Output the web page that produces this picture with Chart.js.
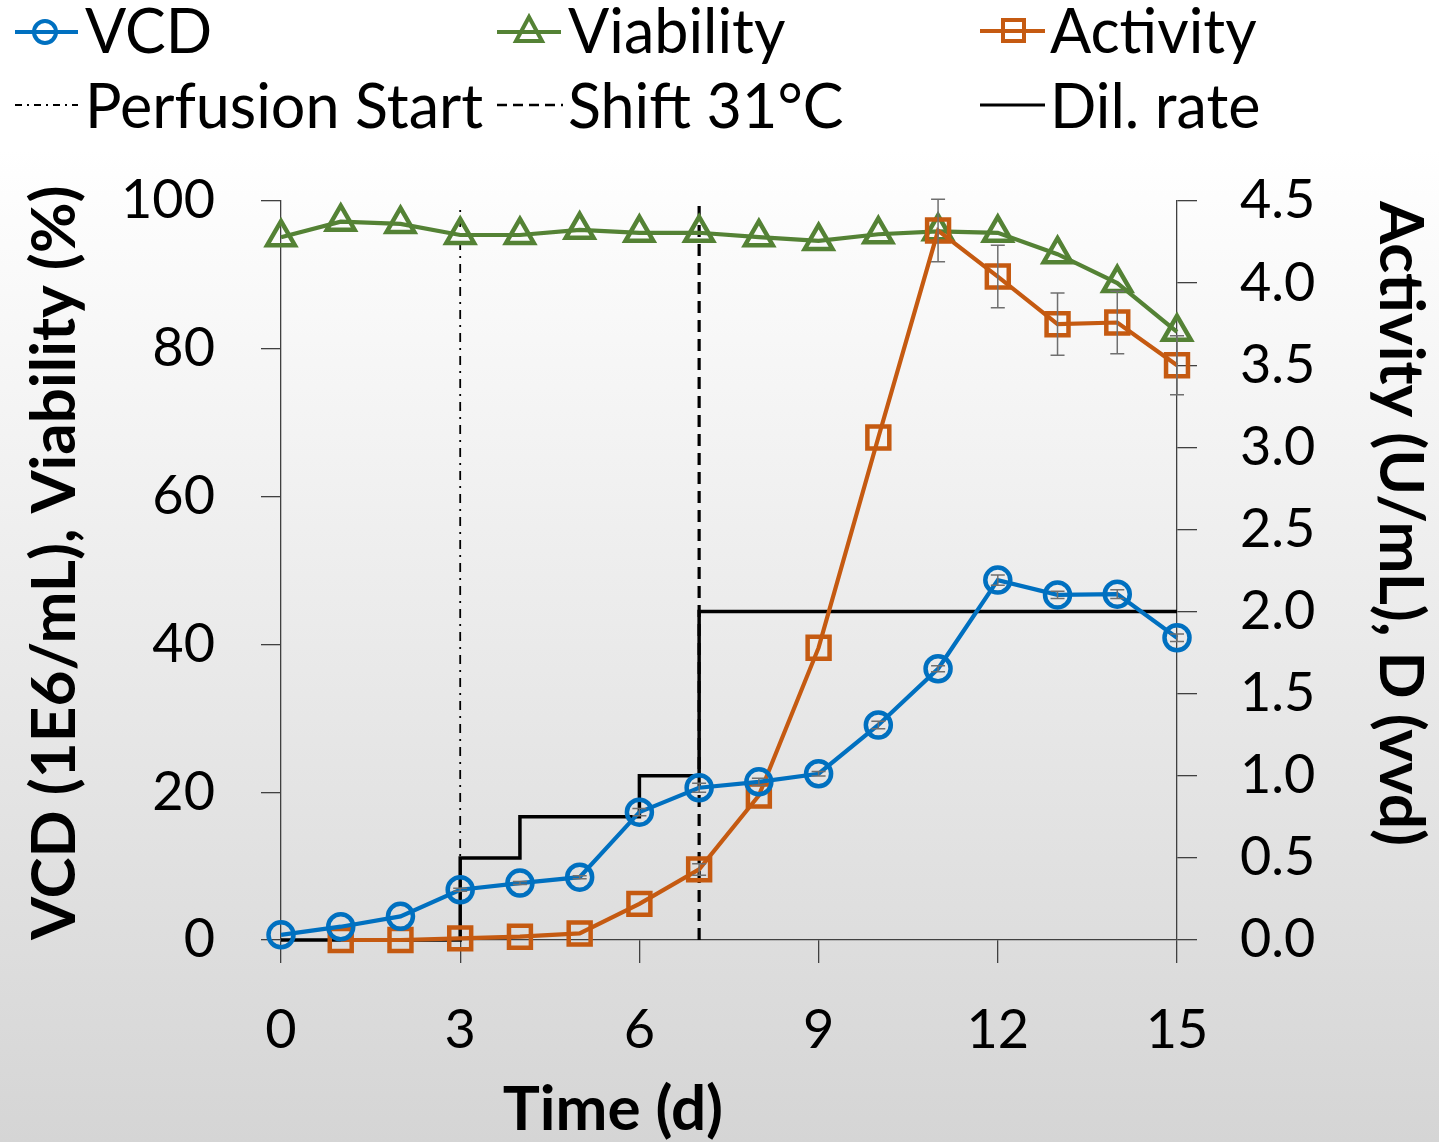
<!DOCTYPE html>
<html>
<head>
<meta charset="utf-8">
<script src="https://cdn.jsdelivr.net/npm/chart.js@4.4.1/dist/chart.umd.min.js"></script>
<style>
html,body{margin:0;padding:0;}
body{width:1439px;height:1142px;position:relative;overflow:hidden;
  background:linear-gradient(to bottom,#ffffff 0px,#ffffff 150px,#d5d5d5 1142px);
  font-family:Lato,"Open Sans",sans-serif;}
#wrap{position:absolute;left:0;top:0;width:1439px;height:1142px;}
.lt{position:absolute;font-size:61px;line-height:61px;color:#000;white-space:nowrap;}
svg.mk{position:absolute;overflow:visible;}
</style>
</head>
<body>
<div id="wrap"><canvas id="c" width="1439" height="1142"></canvas></div>

<svg class="mk" style="left:0;top:0" width="1439" height="140">
  <!-- VCD -->
  <line x1="15" y1="32" x2="78" y2="32" stroke="#0070C0" stroke-width="4"/>
  <circle cx="45" cy="32" r="11" fill="none" stroke="#0070C0" stroke-width="4"/>
  <!-- Viability -->
  <line x1="497" y1="32" x2="561" y2="32" stroke="#548235" stroke-width="4"/>
  <polygon points="529,17 542,41 516,41" fill="none" stroke="#548235" stroke-width="4" stroke-linejoin="miter"/>
  <!-- Activity -->
  <line x1="980" y1="31" x2="1045" y2="31" stroke="#C55A11" stroke-width="4"/>
  <rect x="1003" y="20" width="21" height="21" fill="none" stroke="#C55A11" stroke-width="4"/>
  <!-- Perfusion start -->
  <line x1="15" y1="105" x2="78" y2="105" stroke="#000" stroke-width="1.8" stroke-dasharray="7,5,2,5"/>
  <!-- Shift -->
  <line x1="497" y1="105" x2="563" y2="105" stroke="#000" stroke-width="2.4" stroke-dasharray="10,6"/>
  <!-- Dil rate -->
  <line x1="980" y1="105" x2="1045" y2="105" stroke="#000" stroke-width="3.2"/>
</svg>
<div class="lt" style="left:85px;top:-1px">VCD</div>
<div class="lt" style="left:568px;top:-1px">Viability</div>
<div class="lt" style="left:1050px;top:-1px">Activity</div>
<div class="lt" style="left:85px;top:74px">Perfusion Start</div>
<div class="lt" style="left:568px;top:74px">Shift 31°C</div>
<div class="lt" style="left:1050px;top:74px">Dil. rate</div>

<script>
// ---- data ----
const days       = [0,1,2,3,4,5,6,7,8,9,10,11,12,13,14,15];
const vcd        = [0.7,1.8,3.2,6.8,7.7,8.5,17.3,20.6,21.4,22.5,29.1,36.7,48.7,46.7,46.8,40.9];
const vcdErr     = [0,0,0,0.2,0.2,0.2,0.5,0.6,0.5,0.3,0.5,0.4,0.7,0.5,0.6,0.5];
const viability  = [95.1,97.2,96.9,95.4,95.4,96.1,95.7,95.7,95.1,94.6,95.5,95.9,95.7,92.8,88.9,82.3];
const actDays    = [1,2,3,4,5,6,7,8,9,10,11,12,13,14,15];
const activity   = [0.0,0.0,0.01,0.02,0.04,0.22,0.43,0.88,1.78,3.06,4.32,4.04,3.75,3.76,3.50];
const actErr     = [0,0,0,0,0,0,0.035,0,0,0,0.19,0.19,0.19,0.19,0.18];
const dilDays    = [0,3,4,6,7,15];
const dilRate    = [0,0.5,0.75,1.0,2.0,2.0];
const perfusionDay = 3;
const shiftDay     = 7;
const markerTop    = 99.5;
const xTicks  = [0,3,6,9,12,15];
const yTicks  = [0,20,40,60,80,100];
const y2Ticks = [0,0.5,1.0,1.5,2.0,2.5,3.0,3.5,4.0,4.5];

const pts = (xs, ys) => xs.map((x,i)=>({x, y: ys[i]}));

const errorBars = {
  id:'errorBars',
  afterDatasetsDraw(chart){
    const ctx = chart.ctx;
    chart.data.datasets.forEach((ds, di)=>{
      if(!ds.errors) return;
      const meta = chart.getDatasetMeta(di);
      const ys = chart.scales[ds.yAxisID];
      ctx.save();
      ctx.strokeStyle = '#6f6f6f';
      ctx.lineWidth = 1.5;
      meta.data.forEach((el, i)=>{
        const e = ds.errors[i];
        if(!e) return;
        const v = ds.data[i].y;
        const yt = ys.getPixelForValue(v+e), yb = ys.getPixelForValue(v-e);
        const x = el.x;
        ctx.beginPath();
        ctx.moveTo(x, yt); ctx.lineTo(x, yb);
        ctx.moveTo(x-7, yt); ctx.lineTo(x+7, yt);
        ctx.moveTo(x-7, yb); ctx.lineTo(x+7, yb);
        ctx.stroke();
      });
      ctx.restore();
    });
  }
};

const xTitle = {
  id:'xTitle',
  afterDraw(chart){
    const ctx = chart.ctx, a = chart.chartArea;
    ctx.save();
    ctx.font = 'bold 62px Lato';
    ctx.fillStyle = '#000';
    ctx.textAlign = 'center';
    ctx.textBaseline = 'alphabetic';
    ctx.fillText('Time (d)', a.left + 332, 1130);
    ctx.restore();
  }
};

const axisColor = '#404040';

new Chart(document.getElementById('c'), {
  type:'line',
  data:{
    datasets:[
      {label:'VCD', data:pts(days,vcd), errors:vcdErr, yAxisID:'y', borderColor:'#0070C0', backgroundColor:'rgba(0,0,0,0)',
        borderWidth:4.2, pointStyle:'circle', pointRadius:12.5, pointBorderWidth:4.5, pointBackgroundColor:'rgba(0,0,0,0)', order:1},
      {label:'Viability', data:pts(days,viability), yAxisID:'y', borderColor:'#548235', backgroundColor:'rgba(0,0,0,0)',
        borderWidth:4.2, pointStyle:'triangle', pointRadius:16, pointBorderWidth:4.5, pointBackgroundColor:'rgba(0,0,0,0)', order:3},
      {label:'Activity', data:pts(actDays,activity), errors:actErr, yAxisID:'y2', borderColor:'#C55A11', backgroundColor:'rgba(0,0,0,0)',
        borderWidth:4.2, pointStyle:'rect', pointRadius:15.5, pointBorderWidth:4.5, pointBackgroundColor:'rgba(0,0,0,0)', order:2},
      {label:'Dil. rate', data:pts(dilDays,dilRate), yAxisID:'y2', borderColor:'#000', borderWidth:3.5, pointRadius:0, stepped:true, order:5},
      {label:'Perfusion Start', data:[{x:perfusionDay,y:0},{x:perfusionDay,y:markerTop}], yAxisID:'y', borderColor:'#000',
        borderWidth:1.8, borderDash:[9,6,2,6], pointRadius:0, order:4},
      {label:'Shift 31°C', data:[{x:shiftDay,y:0},{x:shiftDay,y:markerTop}], yAxisID:'y', borderColor:'#000',
        borderWidth:3.2, borderDash:[12,7], pointRadius:0, order:4}
    ]
  },
  options:{
    responsive:false, animation:false, clip:false,
    layout:{padding:{top:201,left:0,right:0,bottom:0}},
    plugins:{legend:{display:false}, tooltip:{enabled:false}},
    scales:{
      x:{type:'linear', min:0, max:15,
        afterBuildTicks(s){ s.ticks = xTicks.map(v=>({value:v})); },
        afterFit(s){ s.height = 202; },
        border:{display:true, color:axisColor, width:1.3},
        grid:{display:true, drawOnChartArea:false, drawTicks:true, tickLength:23, color:axisColor, lineWidth:1.3},
        ticks:{color:'#000', font:{family:'Lato', size:54}, padding:35, maxRotation:0, autoSkip:false}
      },
      y:{position:'left', min:0, max:100,
        afterBuildTicks(s){ s.ticks = yTicks.map(v=>({value:v})); },
        afterFit(s){ s.width = 281; },
        border:{display:true, color:axisColor, width:1.3},
        grid:{display:true, drawOnChartArea:false, drawTicks:true, tickLength:20, color:axisColor, lineWidth:1.3},
        ticks:{color:'#000', font:{family:'Lato', size:54}, padding:46, autoSkip:false},
        title:{display:true, text:'VCD (1E6/mL), Viability (%)', align:'start', color:'#000',
          font:{family:'Lato', size:62, weight:'bold'}, padding:{top:18,bottom:0}}
      },
      y2:{position:'right', min:0, max:4.5,
        afterBuildTicks(s){ s.ticks = y2Ticks.map(v=>({value:v})); },
        afterFit(s){ s.width = 262; },
        border:{display:true, color:axisColor, width:1.3},
        grid:{display:true, drawOnChartArea:false, drawTicks:true, tickLength:20, color:axisColor, lineWidth:1.3},
        ticks:{color:'#000', font:{family:'Lato', size:54}, padding:43, autoSkip:false,
          callback:(v)=>Number(v).toFixed(1)},
        title:{display:true, text:'Activity (U/mL), D (vvd)', align:'end', color:'#000',
          font:{family:'Lato', size:62, weight:'bold'}, padding:{top:2,bottom:0}}
      }
    }
  },
  plugins:[errorBars, xTitle]
});
</script>
</body>
</html>
